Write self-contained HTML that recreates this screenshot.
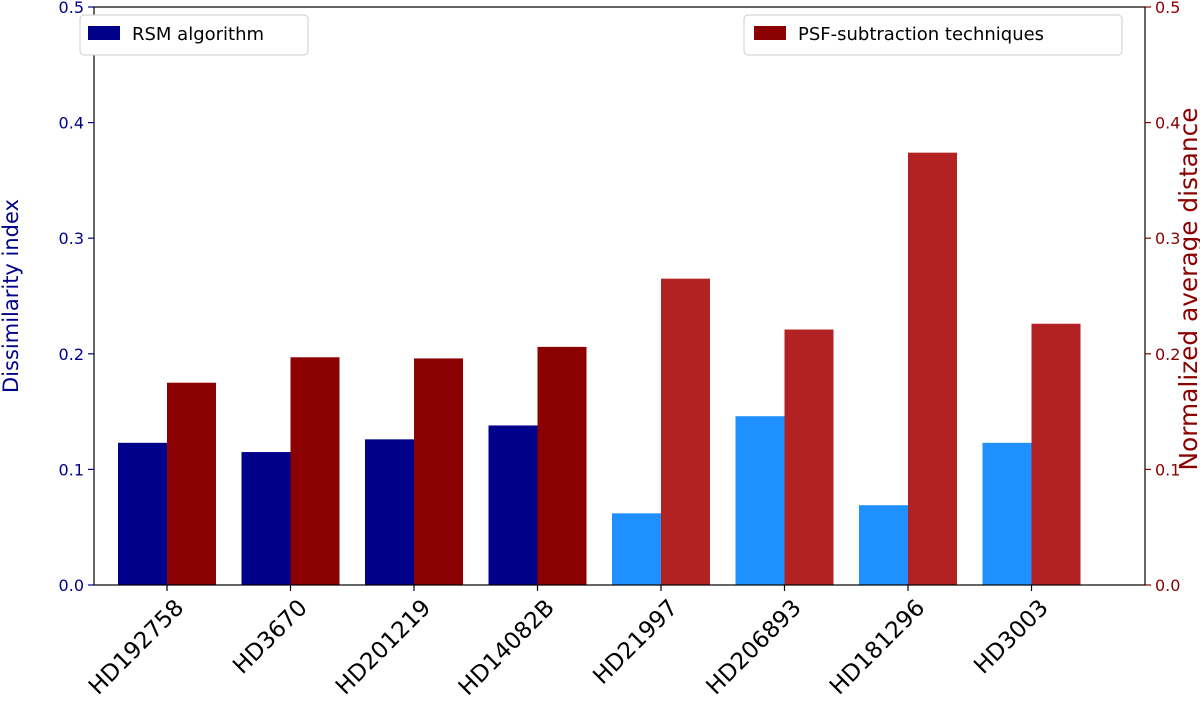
<!DOCTYPE html>
<html><head><meta charset="utf-8"><style>
body{margin:0;background:#fff;font-family:"DejaVu Sans","Liberation Sans",sans-serif}
</style></head><body>
<svg id="chart" width="1200" height="701" xmlns="http://www.w3.org/2000/svg" font-family="DejaVu Sans, Liberation Sans, sans-serif"></svg>
<script>
const categories=["HD192758","HD3670","HD201219","HD14082B","HD21997","HD206893","HD181296","HD3003"];
const rsmValues=[0.123,0.115,0.126,0.138,0.062,0.146,0.069,0.123];
const psfValues=[0.175,0.197,0.196,0.206,0.265,0.221,0.374,0.226];
const rsmColors=["#00008b","#00008b","#00008b","#00008b","#1e90ff","#1e90ff","#1e90ff","#1e90ff"];
const psfColors=["#8b0000","#8b0000","#8b0000","#8b0000","#b22222","#b22222","#b22222","#b22222"];
const yTicks=[0.0,0.1,0.2,0.3,0.4,0.5];
const NS="http://www.w3.org/2000/svg";
const svg=document.getElementById('chart');
const L=94,R=1145,T=7,B=585;
const y=v=>B-(v/0.5)*(B-T);
const xc=i=>167+i*123.5;
const bw=49;
function mk(tag,attrs,txt){const e=document.createElementNS(NS,tag);for(const k in attrs)e.setAttribute(k,attrs[k]);if(txt!==undefined)e.textContent=txt;svg.appendChild(e);return e;}
categories.forEach((c,i)=>{
  const b1=mk('rect',{x:xc(i)-bw,y:y(rsmValues[i]),width:bw,height:B-y(rsmValues[i]),fill:rsmColors[i]});
  
  
  const b2=mk('rect',{x:xc(i),y:y(psfValues[i]),width:bw,height:B-y(psfValues[i]),fill:psfColors[i]});
  
  
  mk('line',{x1:xc(i),x2:xc(i),y1:B,y2:B+6,stroke:'#000','stroke-width':1.2});
  const t=mk('text',{x:0,y:0,'font-size':23,'text-anchor':'end',transform:`translate(${xc(i)+18},${B+24}) rotate(-45)`},c);
  
  
});
mk('rect',{x:L,y:T,width:R-L,height:B-T,fill:'none',stroke:'#000','stroke-width':1.2});
yTicks.forEach(v=>{
  mk('line',{x1:L-6,x2:L,y1:y(v),y2:y(v),stroke:'#00008b','stroke-width':1.2});
  const a=mk('text',{x:L-10,y:y(v)+6,'font-size':16,'text-anchor':'end',fill:'#00008b'},v.toFixed(1));
  
  
  mk('line',{x1:R,x2:R+6,y1:y(v),y2:y(v),stroke:'#8b0000','stroke-width':1.2});
  const b=mk('text',{x:R+10,y:y(v)+6,'font-size':16,'text-anchor':'start',fill:'#8b0000'},v.toFixed(1));
  
  
});
const yl=mk('text',{x:0,y:0,'font-size':21,'text-anchor':'middle',fill:'#00008b',transform:`translate(18,${(T+B)/2}) rotate(-90)`},'Dissimilarity index');


const yr=mk('text',{x:0,y:0,'font-size':25,'text-anchor':'middle',textLength:363,lengthAdjust:'spacingAndGlyphs',fill:'#8b0000',transform:`translate(1197,289) rotate(-90)`},'Normalized average distance');


const lg1=mk('rect',{x:80,y:15,width:228,height:40,rx:4,fill:'#fff',stroke:'#ccc'});


mk('rect',{x:88,y:26,width:32,height:14,fill:'#00008b'});
mk('text',{x:132,y:40,'font-size':18},'RSM algorithm');
const lg2=mk('rect',{x:744,y:15,width:378,height:40,rx:4,fill:'#fff',stroke:'#ccc'});


mk('rect',{x:754,y:26,width:32,height:14,fill:'#8b0000'});
mk('text',{x:798,y:40,'font-size':18},'PSF-subtraction techniques');
</script>
</body></html>
